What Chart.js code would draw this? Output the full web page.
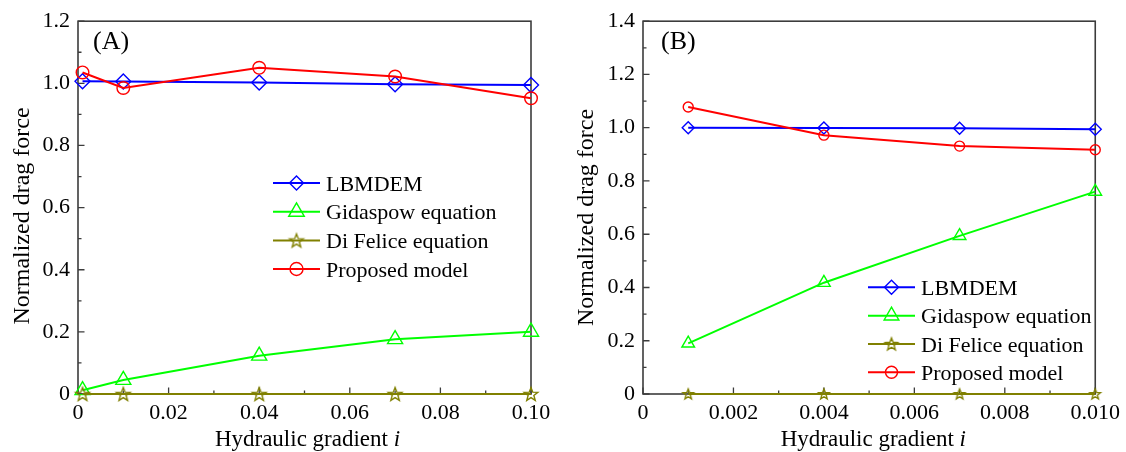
<!DOCTYPE html>
<html>
<head>
<meta charset="utf-8">
<script src="https://cdn.jsdelivr.net/npm/chart.js@4/dist/chart.umd.min.js"></script>
<style>
  html, body { margin: 0; padding: 0; background: #ffffff; }
  #wrap { position: relative; width: 1126px; height: 452px; overflow: hidden; background: #fff; }
  canvas { position: absolute; top: 0; }
</style>
</head>
<body>
<div id="wrap">
  <canvas id="chartA" width="560" height="452" style="left:0;width:560px;height:452px"></canvas>
  <canvas id="chartB" width="566" height="452" style="left:560px;width:566px;height:452px"></canvas>
</div>
<script>
// ---- Panel (A): hydraulic gradient 0.001 - 0.1 ----
const gradientA = [0.001, 0.01, 0.04, 0.07, 0.10];
const lbmdemA   = [1.007, 1.006, 1.003, 0.997, 0.995];
const gidaspowA = [0.012, 0.045, 0.123, 0.176, 0.200];
const diFeliceA = [0, 0, 0, 0, 0];
const proposedA = [1.035, 0.985, 1.050, 1.022, 0.952];
const xTickLabelsA = ['0', '0.02', '0.04', '0.06', '0.08', '0.10'];
const yTickLabelsA = ['0', '0.2', '0.4', '0.6', '0.8', '1.0', '1.2'];

// ---- Panel (B): hydraulic gradient 0.001 - 0.01 ----
const gradientB = [0.001, 0.004, 0.007, 0.010];
const lbmdemB   = [1.000, 0.999, 0.998, 0.994];
const gidaspowB = [0.190, 0.418, 0.594, 0.760];
const diFeliceB = [0, 0, 0, 0];
const proposedB = [1.078, 0.972, 0.931, 0.917];
const xTickLabelsB = ['0', '0.002', '0.004', '0.006', '0.008', '0.010'];
const yTickLabelsB = ['0', '0.2', '0.4', '0.6', '0.8', '1.0', '1.2', '1.4'];

const seriesNames = ['LBMDEM', 'Gidaspow equation', 'Di Felice equation', 'Proposed model'];

const FONT = "'Liberation Serif', 'Times New Roman', serif";
const AXIS_COLOR = '#3c3c3c';
const COLORS = { lbmdem: '#0000ff', gidaspow: '#00ff00', diFelice: '#808000', proposed: '#ff0000' };

Chart.defaults.font.family = FONT;
Chart.defaults.color = '#000';

// Hollow five-pointed star used as a point style
function starImage(r, color, lw) {
  const size = Math.ceil(2 * r + 2 * lw + 2);
  const c = document.createElement('canvas');
  c.width = size; c.height = size;
  const g = c.getContext('2d');
  const cx = size / 2, cy = size / 2 + r * 0.08;
  g.beginPath();
  for (let k = 0; k < 10; k++) {
    const rr = k % 2 === 0 ? r : r * 0.42;
    const a = -Math.PI / 2 + k * Math.PI / 5;
    const px = cx + rr * Math.cos(a), py = cy + rr * Math.sin(a);
    if (k === 0) g.moveTo(px, py); else g.lineTo(px, py);
  }
  g.closePath();
  g.strokeStyle = color; g.lineWidth = lw; g.lineJoin = 'miter';
  g.stroke();
  return c;
}

// Marker drawing for the in-plot legend
function drawMarker(ctx, style, x, y, r, color, lw) {
  if (style instanceof HTMLCanvasElement) {
    ctx.drawImage(style, x - style.width / 2, y - style.height / 2);
    return;
  }
  ctx.save();
  ctx.strokeStyle = color; ctx.lineWidth = lw;
  ctx.beginPath();
  if (style === 'rectRot') {
    ctx.moveTo(x, y - r); ctx.lineTo(x + r, y); ctx.lineTo(x, y + r); ctx.lineTo(x - r, y); ctx.closePath();
  } else if (style === 'triangle') {
    for (let k = 0; k < 3; k++) {
      const a = k * 2 * Math.PI / 3;
      const px = x + Math.sin(a) * r, py = y - Math.cos(a) * r;
      if (k === 0) ctx.moveTo(px, py); else ctx.lineTo(px, py);
    }
    ctx.closePath();
  } else {
    ctx.arc(x, y, r, 0, Math.PI * 2);
  }
  ctx.stroke();
  ctx.restore();
}

// Frame, inward ticks, axis titles, panel tag and legend
function decorPlugin(p) {
  return {
    id: 'panelDecor',
    beforeDatasetsDraw(chart) {
      const { ctx, chartArea: a, scales: { x, y } } = chart;
      ctx.save();
      ctx.strokeStyle = AXIS_COLOR;
      ctx.lineWidth = 1.3;
      const xs = x.ticks.map(t => x.getPixelForValue(t.value));
      const ys = y.ticks.map(t => y.getPixelForValue(t.value));
      ctx.beginPath();
      xs.forEach((px, i) => {
        ctx.moveTo(px, a.bottom); ctx.lineTo(px, a.bottom - 6.5);
        if (i < xs.length - 1) {
          const m = (px + xs[i + 1]) / 2;
          ctx.moveTo(m, a.bottom); ctx.lineTo(m, a.bottom - 3.5);
        }
      });
      ys.forEach((py, i) => {
        ctx.moveTo(a.left, py); ctx.lineTo(a.left + 6.5, py);
        if (i < ys.length - 1) {
          const m = (py + ys[i + 1]) / 2;
          ctx.moveTo(a.left, m); ctx.lineTo(a.left + 3.5, m);
        }
      });
      ctx.stroke();
      ctx.lineWidth = 1.6;
      ctx.strokeRect(a.left, a.top, a.right - a.left, a.bottom - a.top);
      ctx.restore();
    },
    afterDraw(chart) {
      const { ctx } = chart;
      ctx.save();
      ctx.fillStyle = '#000';
      // panel tag
      ctx.font = `26px ${FONT}`;
      ctx.textAlign = 'left'; ctx.textBaseline = 'alphabetic';
      ctx.fillText(p.tag, p.tagX, 49);
      // x-axis title with italic symbol
      ctx.font = `23px ${FONT}`;
      const head = 'Hydraulic gradient ';
      const w1 = ctx.measureText(head).width;
      ctx.font = `italic 23px ${FONT}`;
      const w2 = ctx.measureText('i').width;
      const x0 = p.xTitleX - (w1 + w2) / 2;
      ctx.font = `23px ${FONT}`;
      ctx.fillText(head, x0, 446);
      ctx.font = `italic 23px ${FONT}`;
      ctx.fillText('i', x0 + w1, 446);
      // y-axis title
      ctx.translate(p.yTitleX, p.yTitleY);
      ctx.rotate(-Math.PI / 2);
      ctx.font = `24px ${FONT}`;
      ctx.textAlign = 'center'; ctx.textBaseline = 'middle';
      ctx.fillText('Normalized drag force', 0, 0);
      ctx.restore();

      // legend
      const L = p.legend;
      ctx.save();
      chart.data.datasets.forEach((ds, i) => {
        const ry = L.rows[i];
        ctx.strokeStyle = ds.borderColor; ctx.lineWidth = 2;
        ctx.beginPath(); ctx.moveTo(L.x0, ry); ctx.lineTo(L.x1, ry); ctx.stroke();
        drawMarker(ctx, ds.legendStyle, (L.x0 + L.x1) / 2, ry, ds.legendRadius, ds.borderColor, 1.4);
        ctx.fillStyle = '#000';
        ctx.font = `22px ${FONT}`;
        ctx.textAlign = 'left'; ctx.textBaseline = 'alphabetic';
        ctx.fillText(ds.label, L.tx, ry + 7.5);
      });
      ctx.restore();
    }
  };
}

function series(label, xs, ys, color, style, r, legendStyle, legendR, order) {
  return {
    label,
    data: xs.map((xv, i) => ({ x: xv, y: ys[i] })),
    borderColor: color,
    borderWidth: 2,
    pointStyle: style,
    pointRadius: r,
    pointBorderColor: color,
    pointBackgroundColor: 'rgba(0,0,0,0)',
    pointBorderWidth: 1.4,
    tension: 0,
    clip: false,
    order,
    legendStyle,
    legendRadius: legendR
  };
}

function makeChart(id, p) {
  const starPlot = starImage(p.r.star, COLORS.diFelice, 1.4);
  const starLegend = starImage(p.lr.star, COLORS.diFelice, 1.4);
  const datasets = [
    series(seriesNames[0], p.x, p.lbmdem, COLORS.lbmdem, 'rectRot', p.r.diamond, 'rectRot', p.lr.diamond, 3),
    series(seriesNames[1], p.x, p.gidaspow, COLORS.gidaspow, 'triangle', p.r.triangle, 'triangle', p.lr.triangle, 2),
    series(seriesNames[2], p.x, p.diFelice, COLORS.diFelice, starPlot, p.r.star, starLegend, p.lr.star, 1),
    series(seriesNames[3], p.x, p.proposed, COLORS.proposed, 'circle', p.r.circle, 'circle', p.lr.circle, 0)
  ];
  return new Chart(document.getElementById(id), {
    type: 'line',
    data: { datasets },
    options: {
      responsive: false,
      animation: false,
      events: [],
      layout: { padding: { left: 0, top: 20, right: p.padRight, bottom: 0 } },
      plugins: { legend: { display: false }, tooltip: { enabled: false } },
      scales: {
        x: {
          type: 'linear', min: 0, max: p.xMax,
          grid: { display: false, drawTicks: false },
          border: { display: false },
          ticks: {
            stepSize: p.xStep, autoSkip: false, maxRotation: 0, padding: 6,
            font: { size: 22 }, color: '#000',
            callback: (v, i) => p.xLabels[i]
          },
          afterFit: s => { s.height = 58; }
        },
        y: {
          type: 'linear', min: 0, max: p.yMax,
          grid: { display: false, drawTicks: false },
          border: { display: false },
          ticks: {
            stepSize: 0.2, autoSkip: false, padding: 8,
            font: { size: 22 }, color: '#000',
            callback: (v, i) => p.yLabels[i]
          },
          afterFit: s => { s.width = p.yAxisWidth; }
        }
      }
    },
    plugins: [decorPlugin(p)]
  });
}

makeChart('chartA', {
  x: gradientA, lbmdem: lbmdemA, gidaspow: gidaspowA, diFelice: diFeliceA, proposed: proposedA,
  xLabels: xTickLabelsA, yLabels: yTickLabelsA,
  xMax: 0.1, xStep: 0.02, yMax: 1.2,
  yAxisWidth: 78, padRight: 29,
  r: { diamond: 7.5, triangle: 8.7, star: 7.2, circle: 6.3 },
  lr: { diamond: 7, triangle: 9, star: 7.2, circle: 6.5 },
  tag: '(A)', tagX: 93,
  xTitleX: 307.5, yTitleX: 23, yTitleY: 216,
  legend: { x0: 273, x1: 320, tx: 326, rows: [183, 211.8, 240.5, 269] }
});

makeChart('chartB', {
  x: gradientB, lbmdem: lbmdemB, gidaspow: gidaspowB, diFelice: diFeliceB, proposed: proposedB,
  xLabels: xTickLabelsB, yLabels: yTickLabelsB,
  xMax: 0.01, xStep: 0.002, yMax: 1.4,
  yAxisWidth: 83, padRight: 29,
  r: { diamond: 6, triangle: 7.3, star: 5.5, circle: 5 },
  lr: { diamond: 7, triangle: 8.5, star: 6.5, circle: 6 },
  tag: '(B)', tagX: 101,
  xTitleX: 313.3, yTitleX: 26.7, yTitleY: 217.5,
  legend: { x0: 308, x1: 355, tx: 361, rows: [287.3, 315.7, 344, 372.3] }
});
</script>
</body>
</html>
